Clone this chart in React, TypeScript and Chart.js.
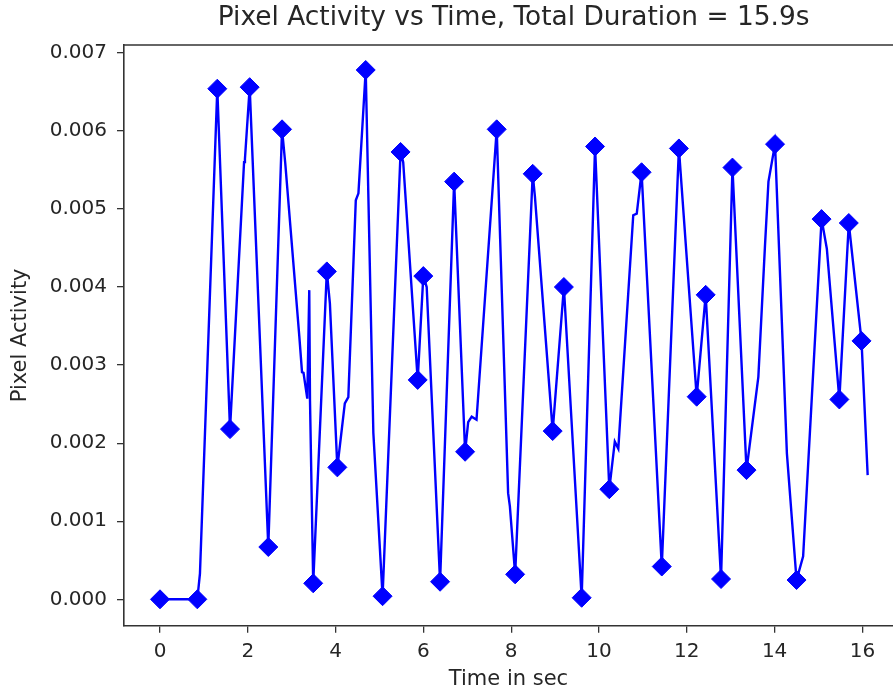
import React, { useEffect, useRef } from 'react';
import { Chart, registerables } from 'chart.js';

Chart.register(...registerables);

// Time in seconds for every vertex of the activity line
const lineTimes = [
  0.0, 0.85, 0.91, 1.305, 1.595, 1.915, 1.935, 2.043, 2.467, 2.78,
  2.854, 3.173, 3.235, 3.269, 3.355, 3.4, 3.417, 3.49, 3.8, 3.87,
  4.04, 4.21, 4.29, 4.46, 4.52, 4.686, 4.86, 5.07, 5.48, 5.54,
  5.87, 5.998, 6.075, 6.38, 6.7, 6.95, 7.02, 7.1, 7.21, 7.67,
  7.93, 7.97, 8.09, 8.49, 8.54, 8.945, 9.2, 9.605, 9.91, 10.235,
  10.36, 10.44, 10.78, 10.86, 10.97, 11.43, 11.82, 12.225, 12.43, 12.78,
  13.04, 13.36, 13.63, 13.78, 13.86, 14.01, 14.28, 14.5, 14.65, 15.07,
  15.19, 15.475, 15.69, 15.98, 16.12,
];

// Pixel activity at each vertex
const lineActivity = [
  0.0, 0.0, 0.00033, 0.00654, 0.00218, 0.0056, 0.00564, 0.00656, 0.00067, 0.00602,
  0.00558, 0.00337, 0.00291, 0.0029, 0.00257, 0.00396, 0.00254, 0.000205, 0.0042, 0.00379,
  0.00169, 0.00251, 0.00259, 0.00511, 0.0052, 0.00678, 0.00213, 0.00004, 0.00573, 0.0056,
  0.00281, 0.00414, 0.004, 0.000225, 0.00535, 0.00189, 0.00227, 0.00234, 0.0023, 0.00602,
  0.00136, 0.00119, 0.00032, 0.00545, 0.00516, 0.002155, 0.004, 0.00002, 0.0058, 0.00141,
  0.00202, 0.00193, 0.00492, 0.00494, 0.00547, 0.00042, 0.005775, 0.002595, 0.0039, 0.00026,
  0.00553, 0.001655, 0.00285, 0.00452, 0.00535, 0.00583, 0.00187, 0.000247, 0.00055, 0.00487,
  0.00449, 0.00256, 0.00482, 0.00331, 0.00159,
];

// Diamond markers at the extrema
const markerTimes = [
  0.0, 0.85, 1.305, 1.595, 2.043, 2.467, 2.78, 3.49, 3.8, 4.04,
  4.686, 5.07, 5.48, 5.87, 5.998, 6.38, 6.7, 6.95, 7.67, 8.09,
  8.49, 8.945, 9.2, 9.605, 9.91, 10.235, 10.97, 11.43, 11.82, 12.225,
  12.43, 12.78, 13.04, 13.36, 14.01, 14.5, 15.07, 15.475, 15.69, 15.98,
];
const markerActivity = [
  0.0, 0.0, 0.00654, 0.00218, 0.00656, 0.00067, 0.00602, 0.000205, 0.0042, 0.00169,
  0.00678, 0.00004, 0.00573, 0.00281, 0.00414, 0.000225, 0.00535, 0.00189, 0.00602, 0.00032,
  0.00545, 0.002155, 0.004, 0.00002, 0.0058, 0.00141, 0.00547, 0.00042, 0.005775, 0.002595,
  0.0039, 0.00026, 0.00553, 0.001655, 0.00583, 0.000247, 0.00487, 0.00256, 0.00482, 0.00331,
];

const titleText = 'Pixel Activity vs Time, Total Duration = 15.9s';
const xLabel = 'Time in sec';
const yLabel = 'Pixel Activity';

// full x-limits of the original axes (right part is cut off by the picture edge)
const X_MIN = -0.82;
const X_VISIBLE_MAX = 16.697;
const X_FULL_MAX = 16.93;

const FONT = "'DejaVu Sans', sans-serif";
const INK = '#262626';
const SPINE = '#333333';

const frame = {
  id: 'frame',
  afterDraw(chart: any) {
    const { ctx, chartArea } = chart;
    const xs = chart.scales.x;
    ctx.save();
    // top spine
    ctx.strokeStyle = SPINE;
    ctx.lineWidth = 1.6;
    ctx.beginPath();
    ctx.moveTo(chartArea.left - 0.8, chartArea.top);
    ctx.lineTo(chart.width, chartArea.top);
    ctx.stroke();
    // title centred over the full axes
    const cx = (chartArea.left + xs.getPixelForValue(X_FULL_MAX)) / 2;
    ctx.fillStyle = INK;
    ctx.font = `normal 26.4px ${FONT}`;
    ctx.textAlign = 'center';
    ctx.textBaseline = 'middle';
    ctx.fillText(titleText, cx, 18);
    ctx.restore();
  },
};

export default function App() {
  const ref = useRef<HTMLCanvasElement | null>(null);

  useEffect(() => {
    if (!ref.current) return;
    const linePts = lineTimes.map((t, i) => ({ x: t, y: lineActivity[i] }));
    const markPts = markerTimes.map((t, i) => ({ x: t, y: markerActivity[i] }));
    const chart = new Chart(ref.current, {
      type: 'line',
      data: {
        datasets: [
          {
            data: markPts,
            showLine: false,
            pointStyle: 'rectRot',
            pointRadius: 9.5,
            pointBorderWidth: 1,
            pointBackgroundColor: '#0000ff',
            pointBorderColor: '#0000ff',
            borderColor: '#0000ff',
            backgroundColor: '#0000ff',
            order: 0,
          },
          {
            data: linePts,
            borderColor: '#0000ff',
            borderWidth: 2.4,
            pointRadius: 0,
            tension: 0,
            fill: false,
            order: 1,
          },
        ],
      },
      options: {
        animation: false,
        responsive: false,
        layout: { padding: { top: 45, left: 0, right: 0, bottom: 0 }, autoPadding: false },
        plugins: {
          legend: { display: false },
          tooltip: { enabled: false },
          title: { display: false },
        },
        scales: {
          x: {
            type: 'linear',
            min: X_MIN,
            max: X_VISIBLE_MAX,
            afterFit: (s: any) => { s.height = 68.3; },
            ticks: {
              stepSize: 2,
              includeBounds: false,
              color: INK,
              font: { family: FONT, size: 20 },
              padding: 7,
              maxRotation: 0,
              autoSkip: false,
            },
            grid: { drawOnChartArea: false, drawTicks: true, tickLength: 7, color: SPINE, lineWidth: 1.3 },
            border: { display: true, color: SPINE, width: 1.6 },
            title: {
              display: true,
              text: xLabel,
              color: INK,
              font: { family: FONT, size: 21 },
              padding: { top: 0, bottom: 2 },
            },
          },
          y: {
            type: 'linear',
            min: -0.000338,
            max: 0.0071,
            afterFit: (s: any) => { s.width = 124; },
            ticks: {
              stepSize: 0.001,
              includeBounds: false,
              color: INK,
              font: { family: FONT, size: 20 },
              padding: 10,
              callback: (v: any) => Number(v).toFixed(3),
            },
            grid: { drawOnChartArea: false, drawTicks: true, tickLength: 7, color: SPINE, lineWidth: 1.3 },
            border: { display: true, color: SPINE, width: 1.6 },
            title: {
              display: true,
              text: yLabel,
              color: INK,
              font: { family: FONT, size: 21 },
              padding: { top: 8, bottom: 0 },
            },
          },
        },
      },
      plugins: [frame],
    });
    return () => chart.destroy();
  }, []);

  return (
    <div style={{ position: 'absolute', left: 0, top: 0, width: 893, height: 694, background: '#fff' }}>
      <canvas ref={ref} width={893} height={694} style={{ display: 'block' }} />
    </div>
  );
}
